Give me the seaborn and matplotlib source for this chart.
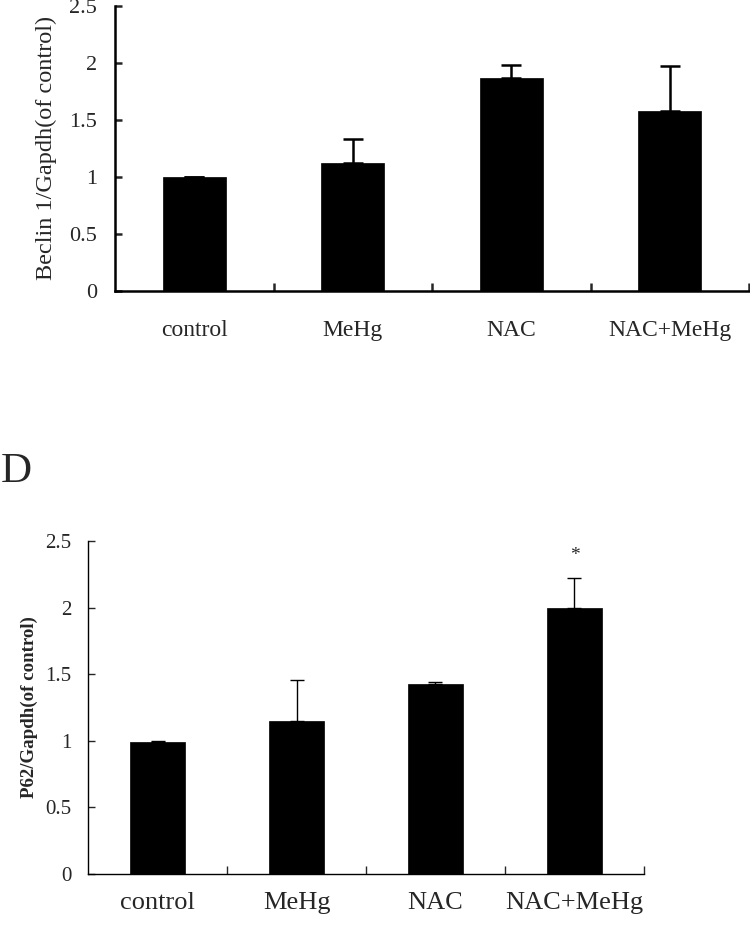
import numpy as np
import pandas as pd
import seaborn as sns
import matplotlib.pyplot as plt
from matplotlib.ticker import FixedLocator

groups = ["control", "MeHg", "NAC", "NAC+MeHg"]

beclin_mean = [1.00, 1.12, 1.87, 1.58]
beclin_err = [0.00, 0.21, 0.115, 0.39]

p62_mean = [0.99, 1.15, 1.43, 2.00]
p62_err = [0.007, 0.31, 0.015, 0.22]
p62_stars = ["", "", "", "*"]

sns.set_theme(style="ticks")
plt.rcParams["font.family"] = ["Liberation Serif", "DejaVu Serif"]

fig = plt.figure(figsize=(7.5, 9.25), dpi=100)


def panel(ax, means, errs, ylabel, lw, cap, xfs, yfs, lfs, xpad, ypad, bold=False):
    df = pd.DataFrame({"group": groups, "value": means})
    sns.barplot(data=df, x="group", y="value", color="black", saturation=1,
                width=0.4, errorbar=None, ax=ax, edgecolor="black",
                linewidth=0.5, zorder=3)
    # upper half only, drawn behind the bars
    ax.errorbar(np.arange(len(groups)), means, yerr=[np.zeros(len(errs)), errs],
                fmt="none", ecolor="black", elinewidth=lw, capsize=cap,
                capthick=lw, zorder=2)
    ax.set_xlim(-0.5, len(groups) - 0.5)
    ax.set_ylim(0, 2.5)
    ax.set_yticks([0, 0.5, 1, 1.5, 2, 2.5])
    ax.set_yticklabels(["0", "0.5", "1", "1.5", "2", "2.5"])
    # category boundaries carry the tick marks, labels sit in between
    ax.xaxis.set_minor_locator(FixedLocator([0.5, 1.5, 2.5, 3.5]))
    ax.tick_params(axis="x", which="major", length=0, pad=xpad, labelsize=xfs)
    ax.tick_params(axis="x", which="minor", direction="in", length=6, width=lw)
    ax.tick_params(axis="y", direction="in", length=5, width=lw, pad=ypad,
                   labelsize=yfs)
    ax.set_xlabel("")
    ax.set_ylabel(ylabel, fontsize=lfs, fontweight="bold" if bold else "normal")
    sns.despine(ax=ax)
    for s in ("left", "bottom"):
        ax.spines[s].set_linewidth(lw)
        ax.spines[s].set_color("black")


# top panel: Beclin 1
ax1 = fig.add_axes([115 / 750, 634.5 / 925, 634 / 750, 284.5 / 925])
panel(ax1, beclin_mean, beclin_err, "Beclin 1/Gapdh(of control)",
      lw=1.8, cap=7, xfs=17, yfs=16, lfs=17.5, xpad=21, ypad=13)
ax1.yaxis.set_label_coords(-0.092, 0.5)

# bottom panel: P62
ax2 = fig.add_axes([88 / 750, 51 / 925, 556 / 750, 333 / 925])
panel(ax2, p62_mean, p62_err, "P62/Gapdh(of control)",
      lw=1.0, cap=5, xfs=19, yfs=15, lfs=13.6, xpad=13, ypad=12, bold=True)
ax2.yaxis.set_label_coords(-0.09, 0.5)
for i, s in enumerate(p62_stars):
    if s:
        ax2.text(i, p62_mean[i] + p62_err[i] + 0.17, s, ha="center",
                 va="center", fontsize=14)

fig.text(16 / 750, 1 - 472 / 925, "D", ha="center", va="center", fontsize=31)

fig.savefig("out.png", dpi=100)
